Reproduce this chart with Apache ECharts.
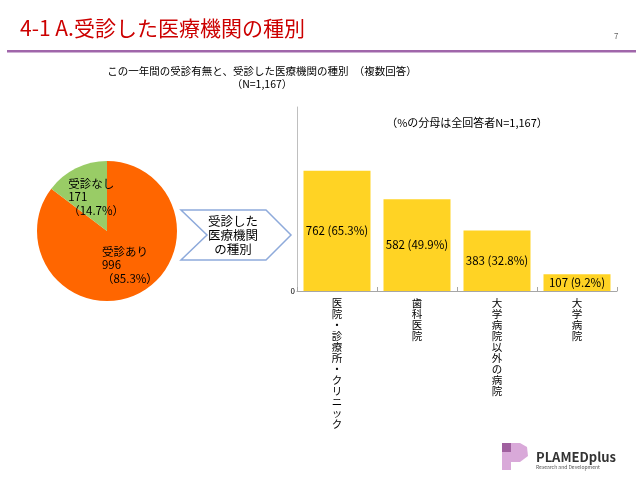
<!DOCTYPE html>
<html><head><meta charset="utf-8">
<script src="https://cdn.jsdelivr.net/npm/echarts@6/dist/echarts.min.js"></script>
<style>html,body{margin:0;padding:0;background:#fff}#c{width:640px;height:480px}</style>
</head><body><div id="c"></div>
<script>
const pieNames = ['受診あり', '受診なし'];
const pieValues = [996, 171];
const piePcts = [85.3, 14.7];
const barCategories = ['医院・診療所・クリニック', '歯科医院', '大学病院以外の病院', '大学病院'];
const barValues = [762, 582, 383, 107];
const barPcts = [65.3, 49.9, 32.8, 9.2];
const totalN = 1167;

const FONT = '"Noto Sans CJK JP", "Noto Sans", sans-serif';
const chart = echarts.init(document.getElementById('c'), null, {renderer: 'canvas'});
chart.setOption({
  backgroundColor: '#fff',
  animation: false,
  textStyle: {fontFamily: FONT},
  grid: {left: 297, top: 107, width: 320, height: 184, containLabel: false},
  xAxis: {
    type: 'category', data: barCategories,
    axisLine: {lineStyle: {color: '#a6a6a6', width: 1}},
    axisTick: {show: true, inside: true, length: 4, lineStyle: {color: '#a6a6a6'}},
    axisLabel: {
      interval: 0, margin: 7, fontSize: 10.5, lineHeight: 11, color: '#000', fontFamily: FONT,
      verticalAlign: 'top',
      formatter: v => v.split('').join('\n')
    }
  },
  yAxis: {
    type: 'value', min: 0, max: totalN, interval: totalN,
    axisLine: {show: true, lineStyle: {color: '#bfbfbf'}},
    axisTick: {show: false}, splitLine: {show: false},
    axisLabel: {fontSize: 8, color: '#000', margin: 2, formatter: v => v === 0 ? '0' : ''}
  },
  series: [
    {
      type: 'pie', center: [107, 231], radius: 70, startAngle: 90, clockwise: true,
      data: pieNames.map((n, i) => ({name: n, value: pieValues[i]})),
      color: ['#ff6600', '#99cc66'],
      label: {
        position: 'inside', color: '#000', fontSize: 11.5, lineHeight: 13.5, fontFamily: FONT,
        formatter: p => '{a|' + p.name + '}\n{a|' + p.value + '}\n{a|（' + piePcts[p.dataIndex] + '%）}',
        rich: {a: {align: 'left', fontSize: 11.5, lineHeight: 13.5, color: '#000', fontFamily: FONT, padding: [0, 0, 0, 12]}}
      },
      labelLine: {show: false},
      emphasis: {disabled: true}
    },
    {
      type: 'bar', data: barValues, barWidth: 67,
      itemStyle: {color: '#ffd324'},
      label: {
        show: true, position: 'inside', color: '#000', fontSize: 11.5, fontFamily: FONT,
        formatter: p => p.value + ' (' + barPcts[p.dataIndex] + '%)'
      }
    }
  ],
  graphic: [
    {type: 'text', left: 20, top: 18, style: {text: '4-1 A.受診した医療機関の種別', fill: '#cc0000', font: '21px ' + FONT}},
    {type: 'text', left: 614, top: 32, style: {text: '7', fill: '#666', font: '8px ' + FONT}},
    {type: 'rect', shape: {x: 7, y: 50, width: 629, height: 2.5}, style: {fill: '#a066aa'}},
    {type: 'text', x: 262, y: 71, style: {text: 'この一年間の受診有無と、受診した医療機関の種別　（複数回答）', fill: '#000', font: '10.5px ' + FONT, align: 'center', verticalAlign: 'middle'}},
    {type: 'text', x: 262, y: 84, style: {text: '（N=1,167）', fill: '#000', font: '10.5px ' + FONT, align: 'center', verticalAlign: 'middle'}},
    {type: 'text', x: 467, y: 123, style: {text: '（%の分母は全回答者N=1,167）', fill: '#000', font: '11px ' + FONT, align: 'center', verticalAlign: 'middle'}},
    {type: 'polygon', shape: {points: [[181, 210], [266, 210], [291, 235], [266, 260], [181, 260], [207, 235]]},
      style: {fill: '#fff', stroke: '#8eaadb', lineWidth: 1.5}},
    {type: 'text', x: 233, y: 235, style: {text: '受診した\n医療機関\nの種別', fill: '#000', font: '12.5px ' + FONT, lineHeight: 14, align: 'center', verticalAlign: 'middle'}},
    {type: 'rect', shape: {x: 502, y: 443, width: 9, height: 9}, style: {fill: '#a0609f'}},
    {type: 'polygon', shape: {points: [[511, 443], [520, 443], [527, 447], [528, 456], [520, 462], [511, 462]]}, style: {fill: '#d9a9d9'}},
    {type: 'rect', shape: {x: 502, y: 452, width: 9, height: 18}, style: {fill: '#d9a9d9'}},
    {type: 'text', x: 536, y: 457, style: {text: 'PLAMEDplus', fill: '#333', font: 'bold 13px ' + FONT, verticalAlign: 'middle'}},
    {type: 'text', x: 536, y: 467, style: {text: 'Research and Development', fill: '#555', font: '5px ' + FONT, verticalAlign: 'middle'}}
  ]
});
</script></body></html>
